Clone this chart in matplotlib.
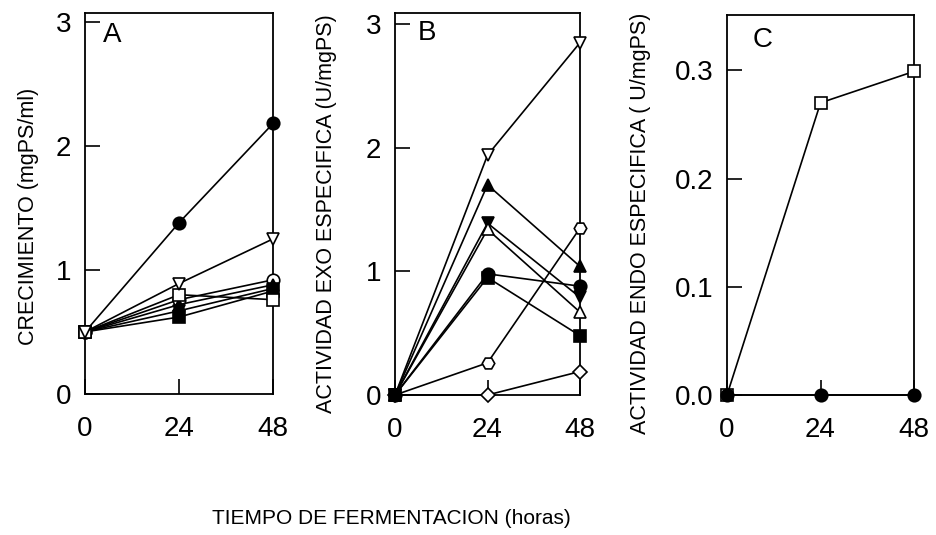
import matplotlib.pyplot as plt

plt.rcParams['font.family'] = ['Liberation Sans', 'DejaVu Sans']

horas = [0, 24, 48]

# Panel A: crecimiento (mgPS/ml)
crec_series = [
    ('o', 'k', [0.5, 1.38, 2.18]),
    ('o', 'w', [0.5, 0.76, 0.92]),
    ('^', 'k', [0.5, 0.72, 0.88]),
    ('v', 'k', [0.5, 0.67, 0.85]),
    ('s', 'k', [0.5, 0.62, 0.83]),
    ('s', 'w', [0.5, 0.80, 0.76]),
    ('v', 'w', [0.5, 0.89, 1.25]),
]

# Panel B: actividad exo especifica (U/mgPS)
exo_series = [
    ('v', 'w', [0, 1.94, 2.85]),
    ('^', 'k', [0, 1.70, 1.04]),
    ('v', 'k', [0, 1.39, 0.79]),
    ('^', 'w', [0, 1.34, 0.67]),
    ('o', 'k', [0, 0.98, 0.88]),
    ('H', 'w', [0, 0.26, 1.35]),
    ('D', 'w', [0, 0.00, 0.19]),
    ('s', 'k', [0, 0.95, 0.48]),
]

# Panel C: actividad endo especifica (U/mgPS)
endo_series = [
    ('s', 'w', [0, 0.27, 0.299]),
    ('o', 'k', [0, 0.0, 0.0]),
]

fig = plt.figure(figsize=(9.37, 5.35), dpi=100)
axA = fig.add_axes([0.0907, 0.2636, 0.2007, 0.712])
axB = fig.add_axes([0.4216, 0.2617, 0.1974, 0.714])
axC = fig.add_axes([0.7759, 0.2617, 0.1996, 0.710])


def draw(ax, series, yticks, ylim, ylabel, letter, lx, ly, fmt):
    for m, fc, vals in series:
        ms = 7.5 if m == 'D' else 9
        ax.plot(horas, vals, marker=m, color='k', mfc=fc, mec='k', ms=ms,
                lw=1.2, mew=1.2, clip_on=False, zorder=3)
    ax.set_xlim(0, 48)
    ax.set_ylim(*ylim)
    ax.set_xticks(horas)
    ax.set_yticks(yticks)
    ax.set_yticklabels([fmt.format(v) for v in yticks])
    ax.tick_params(direction='in', length=11, width=1.2, labelsize=20)
    ax.tick_params(axis='y', pad=10)
    ax.tick_params(axis='x', pad=16)
    for s in ax.spines.values():
        s.set_linewidth(1.3)
    ax.set_ylabel(ylabel, fontsize=15.5)
    ax.text(lx, ly, letter, transform=ax.transAxes, fontsize=20,
            ha='left', va='center')


draw(axA, crec_series, [0, 1, 2, 3], (0, 3.07), 'CRECIMIENTO (mgPS/ml)',
     'A', 0.096, 0.942, '{:g}')
draw(axB, exo_series, [0, 1, 2, 3], (0, 3.09), 'ACTIVIDAD EXO ESPECIFICA (U/mgPS)',
     'B', 0.124, 0.948, '{:g}')
draw(axC, endo_series, [0.0, 0.1, 0.2, 0.3], (0, 0.351),
     'ACTIVIDAD ENDO ESPECIFICA ( U/mgPS)', 'C', 0.139, 0.934, '{:.1f}')

axA.yaxis.set_label_coords(-0.245, 0.465)
axB.yaxis.set_label_coords(-0.313, 0.474)
axC.yaxis.set_label_coords(-0.406, 0.453)

fig.text(0.418, 0.03, 'TIEMPO DE FERMENTACION (horas)', fontsize=15,
         ha='center', va='center')

fig.savefig('out.png', dpi=100)
